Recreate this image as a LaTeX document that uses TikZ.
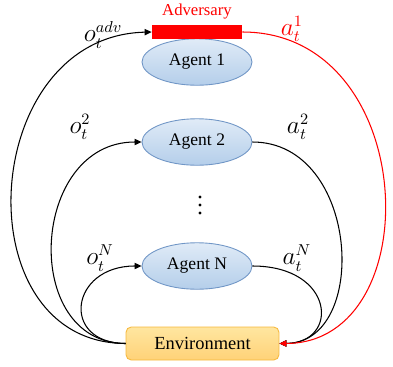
\documentclass[tikz,border=0pt]{standalone}
\usepackage{fontspec}
\setmainfont{Liberation Serif}
\usetikzlibrary{shapes.geometric,arrows.meta}
\definecolor{agentTop}{RGB}{224,235,247}
\definecolor{agentBot}{RGB}{180,206,234}
\definecolor{agentLine}{RGB}{112,150,198}
\definecolor{envTop}{RGB}{255,230,160}
\definecolor{envBot}{RGB}{255,210,120}
\definecolor{envLine}{RGB}{246,184,60}
\definecolor{advRed}{RGB}{255,0,0}
\begin{document}
\begin{tikzpicture}[x=0.02cm,y=-0.02cm,
  agent/.style={ellipse,draw=agentLine,line width=0.5pt,top color=agentTop,bottom color=agentBot,
    minimum width=2.2cm,minimum height=0.93cm,inner sep=0pt,font=\fontsize{10}{12}\selectfont},
  envbox/.style={rectangle,rounded corners=3pt,draw=envLine,line width=0.5pt,top color=envTop,bottom color=envBot,
    minimum width=3.06cm,minimum height=0.66cm,inner sep=0pt,font=\fontsize{10.5}{12}\selectfont},
  link/.style={line width=0.6pt,-{Triangle[length=4pt,width=3.6pt]}},
  lbl/.style={inner sep=0pt,font=\fontsize{13.5}{15}\selectfont}]
\useasboundingbox (0,0) rectangle (393,366);

% agents, the adversary bar and the environment
\node[agent] (a1) at (197,62) {Agent 1};
\node[agent] (a2) at (197,142) {Agent 2};
\node[agent] (aN) at (197,266) {Agent N};
\node[rectangle,fill=advRed,minimum width=1.8cm,minimum height=0.28cm,inner sep=0pt] (bar) at (197,32) {};
\node[text=advRed,inner sep=0pt,font=\fontsize{9.5}{11}\selectfont] (advl) at (197,12) {Adversary};
\node[envbox] (env) at (202.5,343.5) {Environment};
\foreach \yy in {197,205,213} \fill (200,\yy) circle (1.7);

% observation links
\draw[link] (env.west) .. controls (-38,343) and (-22,36) .. (bar.west);
\draw[link] (env.west) .. controls (20,343) and (30,142) .. (a2.west);
\draw[link] (env.west) .. controls (60,343) and (70,266) .. (aN.west);

% action links
\draw[link] (a2.east) .. controls (360,142) and (370,343) .. (env.east);
\draw[link] (aN.east) .. controls (335,266) and (340,343) .. (env.east);
\draw[link,advRed] (bar.east) .. controls (420,32) and (430,343) .. (env.east);

% labels
\node[lbl] (oadv) at (103,35) {$o_t^{adv}$};
\node[lbl,text=advRed] (a1l) at (292,29) {$a_t^1$};
\node[lbl] (o2) at (80,127) {$o_t^2$};
\node[lbl] (a2l) at (298,127) {$a_t^2$};
\node[lbl] (oN) at (100,258) {$o_t^N$};
\node[lbl] (aNl) at (297,258) {$a_t^N$};
\end{tikzpicture}
\end{document}
